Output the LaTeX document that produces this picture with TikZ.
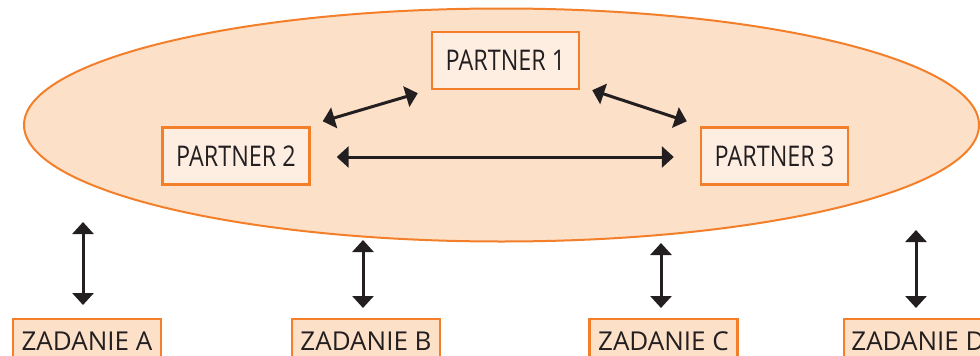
\documentclass[tikz,border=0pt]{standalone}
\usepackage{fontspec}
\setmainfont{Open Sans}
\newfontfamily\narrowsans{Open Sans}[FakeStretch=0.82]
\usetikzlibrary{shapes.geometric,arrows.meta}
\definecolor{teamorange}{HTML}{F37F2A}
\definecolor{teamfill}{HTML}{FCE0C8}
\definecolor{partnerfill}{HTML}{FEEEE2}
\definecolor{inkdark}{HTML}{231F20}
\tikzset{
  partnerbox/.style={draw=teamorange, line width=2.4pt, fill=partnerfill,
    minimum width=147pt, minimum height=57pt, inner sep=0pt,
    text=inkdark, font=\narrowsans\fontsize{28.5}{30}\selectfont},
  taskbox/.style={draw=teamorange, line width=2.4pt, fill=teamfill,
    minimum width=148pt, minimum height=56pt, inner sep=0pt, anchor=north,
    text=inkdark, font=\fontsize{26}{28}\selectfont},
  link/.style={draw=inkdark, line width=3pt,
    {Triangle[length=12pt,width=21pt]}-{Triangle[length=12pt,width=21pt]}}
}
\begin{document}
\begin{tikzpicture}[x=1pt,y=-1pt]
  \useasboundingbox (0,0) rectangle (980,356);
  \clip (0,0) rectangle (980,356);
  % the consortium
  \node[ellipse, draw=teamorange, line width=2pt, fill=teamfill,
        minimum width=955pt, minimum height=233pt, inner sep=0pt] (team) at (501.5,125) {};
  % partners
  \node[partnerbox] (p1) at (505.5,60.5) {PARTNER 1};
  \node[partnerbox] (p2) at (236,156) {PARTNER 2};
  \node[partnerbox] (p3) at (774.5,156) {PARTNER 3};
  % tasks
  \node[taskbox] (za) at (87,318) {\raisebox{12pt}{ZADANIE A}};
  \node[taskbox] (zb) at (366,318) {\raisebox{12pt}{ZADANIE B}};
  \node[taskbox] (zc) at (663.5,318) {\raisebox{12pt}{ZADANIE C}};
  \node[taskbox] (zd) at (918,318) {\raisebox{12pt}{ZADANIE D}};
  % links between partners
  \draw[link] ([shift={(12,-5)}]p2.north east) -- ([shift={(-13,3)}]p1.south west);
  \draw[link] ([shift={(12,0)}]p1.south east) -- ([shift={(-13,-5)}]p3.north west);
  \draw[link] ([shift={(26,1)}]p2.east) -- ([shift={(-26,1)}]p3.west);
  % links between the consortium and the tasks
  \draw[link] ([shift={(-4,-96)}]za.north) -- ([shift={(-4,-13)}]za.north);
  \draw[link] ([shift={(-3,-78)}]zb.north) -- ([shift={(-3,-10)}]zb.north);
  \draw[link] ([shift={(-2.5,-75)}]zc.north) -- ([shift={(-2.5,-10)}]zc.north);
  \draw[link] ([shift={(-2,-88)}]zd.north) -- ([shift={(-2,-10)}]zd.north);
\end{tikzpicture}
\end{document}
